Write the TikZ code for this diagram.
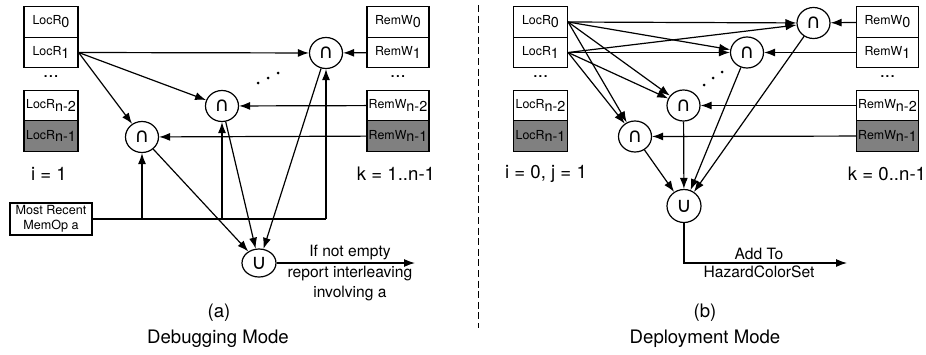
\documentclass[tikz,border=0pt]{standalone}
\usepackage{fontspec}
\setmainfont{TeX Gyre Heros}
\newfontfamily\symfont{DejaVu Sans}
\usepackage{tikz}
\usetikzlibrary{arrows.meta}
\usetikzlibrary{shapes.geometric}
\usetikzlibrary{calc}
\newcommand{\lsub}[1]{\raisebox{-0.45ex}{\fontsize{7.2}{8}\selectfont #1}}

\begin{document}
\begin{tikzpicture}[x=0.5pt,y=-0.5pt,>={Latex[length=5.5pt,width=4pt]},semithick,
	reg/.style={draw,minimum height=15.25pt,inner sep=0pt,font=\fontsize{6.2}{7}\selectfont},
	locreg/.style={reg,minimum width=27pt},
	remreg/.style={reg,minimum width=31pt},
	lastreg/.style={fill=black!50},
	isect/.style={draw,ellipse,minimum width=16.5pt,minimum height=15.5pt,inner sep=0pt,font=\symfont\fontsize{10}{11}\selectfont},
	uset/.style={isect,minimum width=17pt,font=\symfont\fontsize{10.5}{11}\selectfont},
	txt/.style={font=\fontsize{9.3}{11}\selectfont},
	note/.style={font=\fontsize{7.8}{10}\selectfont,align=center,inner sep=1.3pt}]
			\useasboundingbox (0,0) rectangle (926,354);
			%(a) local reads and remote writes
			\node[locreg] (loc0_a) at (51,22) {LocR\lsub{0}};
			\node[locreg] (loc1_a) at (51,52.5) {LocR\lsub{1}};
			\node[txt] (ldots_a) at (51,77) {...};
			\node[locreg] (locn2_a) at (51,105.5) {LocR\lsub{n-2}};
			\node[locreg,lastreg] (locn1_a) at (51,136) {LocR\lsub{n-1}};
			\node[txt] (i_a) at (49,174) {i = 1};
			\node[remreg] (rem0_a) at (398,22) {RemW\lsub{0}};
			\node[remreg] (rem1_a) at (398,52.5) {RemW\lsub{1}};
			\node[txt] (rdots_a) at (398,77) {...};
			\node[remreg] (remn2_a) at (398,105.5) {RemW\lsub{n-2}};
			\node[remreg,lastreg] (remn1_a) at (398,136) {RemW\lsub{n-1}};
			\node[txt] (k_a) at (396,174) {k = 1..n-1};
			\node[draw,minimum width=41pt,minimum height=16pt,inner sep=0pt,align=center,font=\fontsize{6.3}{7.5}\selectfont] (memop) at (51,219) {Most Recent\\MemOp a};
			%intersections and union
			\node[isect] (cap1_a) at (326,53) {∩};
			\node[isect] (cap2_a) at (222,106) {∩};
			\node[isect] (cap3_a) at (142,137) {∩};
			\node[uset,minimum height=14pt] (cup_a) at (259,263) {∪};
			\fill (258,83) circle (0.75pt);
			\fill (268,78) circle (0.75pt);
			\fill (278,73) circle (0.75pt);
			\draw[->] (loc1_a.east)--(cap1_a);
			\draw[->] (loc1_a.east)--(cap2_a);
			\draw[->] (loc1_a.east)--(cap3_a);
			\draw[->] (rem1_a)--(cap1_a);
			\draw[->] (remn2_a)--(cap2_a);
			\draw[->] (remn1_a)--(cap3_a);
			\draw (memop.east)--(memop.east -| cap1_a);
			\draw[->] (memop.east -| cap3_a)--(cap3_a);
			\draw[->] (memop.east -| cap2_a)--(cap2_a);
			\draw[->] (memop.east -| cap1_a)--(cap1_a);
			\draw[->] (cap3_a)--(cup_a);
			\draw[->] (cap2_a)--(cup_a);
			\draw[->] (cap1_a)--(cup_a);
			\coordinate (out_a) at (415,263);
			\draw[->] (cup_a)--(out_a) node[pos=0.53,above,note]{If not empty} node[pos=0.53,below,note]{report interleaving\\involving a};
			\node[txt] (cap_a) at (219,313) {(a)};
			\node[txt] (mode_a) at (218,339) {Debugging Mode};
			%separator
			\draw[thin,dash pattern=on 3.5pt off 1.8pt] (478,5)--(478,328);
			%(b) local reads and remote writes
			\node[locreg] (loc0_b) at (540.5,22) {LocR\lsub{0}};
			\node[locreg] (loc1_b) at (540.5,52.5) {LocR\lsub{1}};
			\node[txt] (ldots_b) at (540.5,77) {...};
			\node[locreg] (locn2_b) at (540.5,105.5) {LocR\lsub{n-2}};
			\node[locreg,lastreg] (locn1_b) at (540.5,136) {LocR\lsub{n-1}};
			\node[txt] (i_b) at (546,174) {i = 0, j = 1};
			\node[remreg] (rem0_b) at (887.5,22) {RemW\lsub{0}};
			\node[remreg] (rem1_b) at (887.5,52.5) {RemW\lsub{1}};
			\node[txt] (rdots_b) at (887.5,77) {...};
			\node[remreg] (remn2_b) at (887.5,105.5) {RemW\lsub{n-2}};
			\node[remreg,lastreg] (remn1_b) at (887.5,136) {RemW\lsub{n-1}};
			\node[txt] (k_b) at (887,174) {k = 0..n-1};
			%intersections and union
			\node[isect] (cap0_b) at (813.5,23) {∩};
			\node[isect] (cap1_b) at (747,52.5) {∩};
			\node[isect] (cap2_b) at (683.5,105.5) {∩};
			\node[isect] (cap3_b) at (635,136.5) {∩};
			\node[uset,minimum height=16.5pt] (cup_b) at (684,206) {∪};
			\fill (704,85) circle (0.75pt);
			\fill (713,78) circle (0.75pt);
			\fill (722,72) circle (0.75pt);
			\draw[->] (loc0_b.east)--(cap0_b);
			\draw[->] (loc0_b.east)--(cap1_b);
			\draw[->] (loc0_b.east)--(cap2_b);
			\draw[->] (loc0_b.east)--(cap3_b);
			\draw[->] (loc1_b.east)--(cap0_b);
			\draw[->] (loc1_b.east)--(cap1_b);
			\draw[->] (loc1_b.east)--(cap2_b);
			\draw[->] (loc1_b.east)--(cap3_b);
			\draw[->] (rem0_b)--(cap0_b);
			\draw[->] (rem1_b)--(cap1_b);
			\draw[->] (remn2_b)--(cap2_b);
			\draw[->] (remn1_b)--(cap3_b);
			\draw[->] (cap3_b)--(cup_b);
			\draw[->] (cap2_b)--(cup_b);
			\draw[->] (cap1_b)--(cup_b);
			\draw[->] (cap0_b)--(cup_b);
			\coordinate (hz_b) at (847,263);
			\draw[->] (cup_b)|-(hz_b) node[pos=0.73,above,note]{Add To} node[pos=0.73,below,note]{HazardColorSet};
			\node[txt] (cap_b) at (705,313) {(b)};
			\node[txt] (mode_b) at (705,339) {Deployment Mode};
		\end{tikzpicture}
\end{document}
